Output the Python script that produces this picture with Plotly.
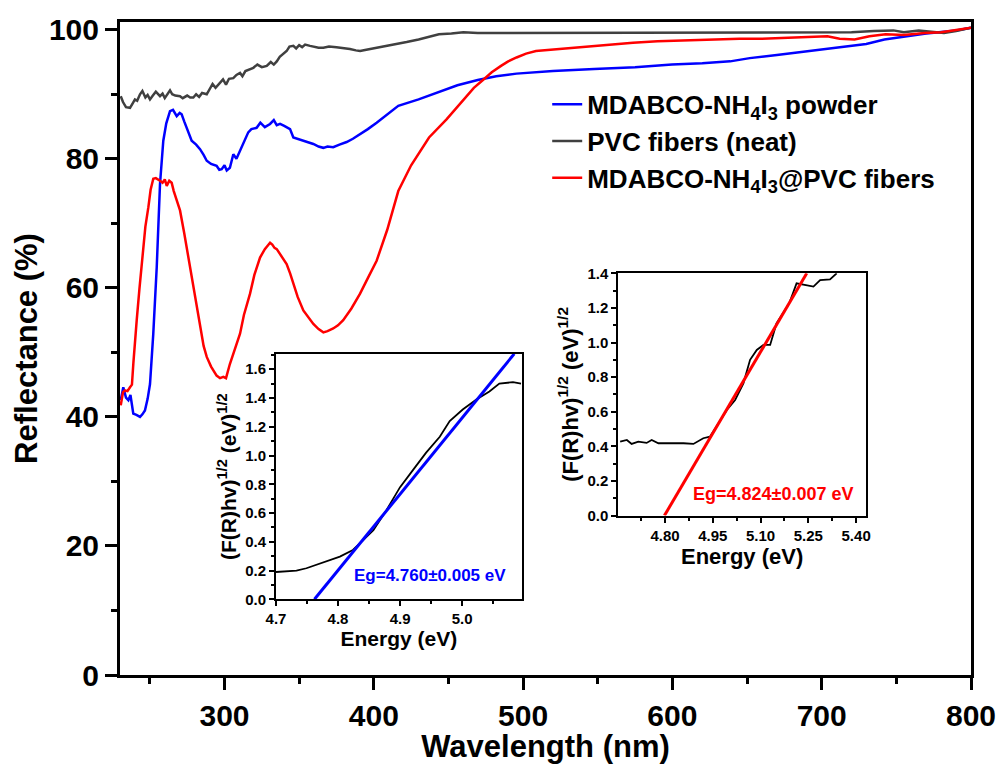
import plotly.graph_objects as go

# ---------------- main chart data ----------------
powder_wl = [230.5, 232.2, 234, 235.6, 237, 238.9, 241, 243.4, 245, 246.7, 248.5, 250.1, 252.3, 254.6,
             256.8, 259, 261, 263.5, 265.5, 268, 270, 271.3, 273, 274.7, 276.5, 278, 281, 283.6, 286,
             288.1, 291, 294.7, 296.5, 298.1, 300, 301.5, 303.6, 305.9, 308, 310.4, 313, 315.9, 318,
             321.5, 324, 327, 330.5, 333, 335, 337.2, 340, 343.9, 346.1, 349, 352.8, 356, 359.5, 363,
             366.2, 369, 372.8, 377, 381.8, 386, 390.8, 396, 401.9, 409, 416.4, 430, 443.6, 456, 469.6,
             482, 495.6, 520, 547.6, 575, 599.7, 620, 638.7, 651.8, 670, 690.8, 710, 729.8, 742, 755.8,
             770, 781.9, 790, 800]
powder_R = [42.6, 44.6, 43.0, 42.6, 43.4, 40.5, 40.3, 40.0, 40.4, 41.0, 42.8, 45.1, 52.9, 63.2,
            76.1, 82.8, 85.5, 87.4, 87.6, 86.6, 87.1, 86.9, 85.8, 84.8, 83.6, 82.8, 82.2, 81.5, 80.6,
            79.7, 79.2, 78.9, 78.3, 78.4, 79.0, 78.2, 78.6, 80.7, 80.0, 81.2, 82.6, 84.1, 84.6,
            84.8, 85.6, 84.9, 85.4, 86.0, 85.2, 85.4, 85.1, 84.6, 83.3, 83.1, 82.8, 82.6, 82.3, 81.9,
            81.7, 81.9, 81.8, 82.2, 82.6, 83.1, 83.8, 84.6, 85.6, 86.9, 88.2, 89.2, 90.3, 91.4, 92.2,
            92.8, 93.2, 93.6, 93.9, 94.2, 94.6, 94.8, 95.1, 95.6, 96.1, 96.7, 97.2, 97.8, 98.5, 99.0,
            99.4, 99.7, 99.9, 100.3]

pvc_wl = [230.5, 232, 234, 236.7, 238.5, 240, 241.5, 243.4, 245, 247, 248.5, 250.1, 252, 254, 256.8,
          258.5, 260, 262, 263.5, 265, 267, 270.2, 272, 275, 277, 279.1, 281, 283, 285, 288.1, 290,
          292, 294, 297, 299, 301, 303, 305.9, 308, 310.4, 312, 314, 317, 319.3, 322, 325, 328.3,
          331, 333, 335, 337, 339, 341.6, 343.5, 346.1, 348, 350, 352, 354, 357.3, 360, 363, 366.2,
          370, 375, 379.5, 384, 388, 390.8, 395, 401.9, 408, 415.3, 422, 430, 437, 443.6, 452, 460,
          469.6, 480, 500, 520, 547.6, 570, 600, 630, 650, 677.8, 700, 720, 735, 748, 755, 765,
          781.9, 790, 800]
pvc_R = [89.7, 88.8, 88.0, 87.9, 88.6, 89.2, 89.0, 90.0, 90.5, 89.5, 89.9, 89.2, 89.8, 90.4, 89.7,
         90.1, 89.4, 90.2, 90.6, 90.0, 89.8, 89.7, 89.4, 89.8, 89.5, 89.5, 90.0, 89.6, 90.2, 90.0, 90.8,
         91.6, 91.0, 91.8, 92.3, 91.5, 92.4, 92.5, 93.0, 93.3, 92.8, 93.6, 93.9, 94.1, 94.6, 94.2, 94.4,
         95.0, 94.6, 95.1, 95.8, 96.2, 96.7, 97.4, 97.5, 97.1, 97.6, 97.3, 97.7, 97.5, 97.4, 97.2, 97.2,
         97.4, 97.3, 97.2, 97.0, 96.8, 96.7, 96.9, 97.2, 97.4, 97.7, 98.1, 98.5, 98.9, 99.3, 99.4, 99.6,
         99.5, 99.5, 99.6, 99.5, 99.5, 99.6, 99.5, 99.6, 99.5, 99.6, 99.5, 99.6, 99.8, 99.9, 99.6, 99.9,
         99.5, 99.8, 100.3]

fiber_wl = [230.5, 232, 233.3, 235, 236.7, 238, 239, 240, 241.2, 243, 245.6, 247, 249, 250.5, 252.3,
            254, 256.8, 258.5, 260, 261.3, 263, 264.6, 266, 268, 270.2, 273, 276.9, 280, 283.6, 286,
            288.1, 291, 294.7, 297, 299.2, 301, 303.6, 306, 308, 310.4, 313, 317.1, 320, 323.8, 327,
            330.5, 332, 333.5, 335, 338, 341.6, 344, 346.1, 349, 352.8, 356, 359.5, 363, 366.2, 369,
            372.8, 376, 379.5, 385, 390.8, 396, 401.9, 409, 416.4, 425, 437, 448.7, 455, 461.7, 467,
            473.5, 479, 485.2, 490, 495.6, 502, 508.6, 521.6, 535, 547.6, 560, 573.6, 590, 605, 625.7,
            645, 660, 677.8, 690, 703.8, 712, 722, 732, 742.8, 755, 768.9, 780, 790, 800]
fiber_R = [41.8, 43.8, 44.1, 44.0, 44.6, 45.0, 48.5, 52.0, 55.0, 59.8, 65.8, 69.5, 72.5, 75.2, 76.9,
           77.0, 76.6, 76.3, 76.8, 75.8, 76.6, 76.3, 75.0, 73.6, 72.0, 68.5, 63.2, 58.5, 53.9, 51.0,
           49.3, 47.8, 46.4, 46.0, 46.2, 46.0, 48.2, 49.8, 51.2, 52.9, 55.8, 59.1, 62.0, 64.7, 66.0,
           67.0, 66.7, 66.2, 66.0, 65.0, 63.7, 62.2, 60.6, 58.6, 56.5, 55.4, 54.4, 53.6, 53.1, 53.3,
           53.7, 54.2, 55.0, 56.8, 59.1, 61.5, 64.2, 69.0, 75.0, 79.0, 83.3, 86.1, 87.8, 89.5, 91.0,
           92.3, 93.4, 94.4, 95.1, 95.7, 96.3, 96.7, 96.95, 97.2, 97.5, 97.7, 98.0, 98.2, 98.3, 98.5,
           98.6, 98.6, 98.8, 98.9, 99.0, 98.6, 98.5, 99.0, 99.3, 99.2, 99.5, 99.6, 99.9, 100.3]

# ---------------- inset 1 (powder) ----------------
in1_E = [4.700, 4.733, 4.749, 4.771, 4.803, 4.824, 4.840, 4.857, 4.878, 4.900, 4.921, 4.942, 4.964,
         4.980, 5.001, 5.023, 5.044, 5.060, 5.082, 5.095]
in1_F = [0.19, 0.20, 0.216, 0.25, 0.297, 0.343, 0.41, 0.48, 0.62, 0.78, 0.90, 1.02, 1.13,
         1.24, 1.32, 1.39, 1.445, 1.50, 1.51, 1.50]
in1_fit_E = [4.762, 5.084]
in1_fit_F = [0.0, 1.707]

# ---------------- inset 2 (fibers) ----------------
in2_E = [4.659, 4.680, 4.695, 4.716, 4.742, 4.758, 4.779, 4.816, 4.858, 4.889, 4.920, 4.941, 4.962,
         4.994, 5.020, 5.046, 5.067, 5.088, 5.109, 5.130, 5.150, 5.190, 5.213, 5.245, 5.266, 5.287,
         5.318, 5.339]
in2_F = [0.427, 0.437, 0.414, 0.427, 0.420, 0.437, 0.418, 0.420, 0.418, 0.414, 0.447, 0.456, 0.514,
         0.61, 0.668, 0.764, 0.90, 0.957, 0.986, 0.986, 1.11, 1.227, 1.342, 1.33, 1.323, 1.361,
         1.365, 1.40]
in2_fit_E = [4.798, 5.245]
in2_fit_F = [0.0, 1.40]

FONT = "Arial, 'Liberation Sans', sans-serif"
BLUE = "#0000FF"
RED = "#FF0000"
GRAY = "#404040"

fig = go.Figure()
fig.add_trace(go.Scatter(x=powder_wl, y=powder_R, mode="lines",
                         name="MDABCO-NH<sub>4</sub>I<sub>3</sub> powder",
                         line=dict(color=BLUE, width=2.5)))
fig.add_trace(go.Scatter(x=pvc_wl, y=pvc_R, mode="lines", name="PVC fibers (neat)",
                         line=dict(color=GRAY, width=2.5)))
fig.add_trace(go.Scatter(x=fiber_wl, y=fiber_R, mode="lines",
                         name="MDABCO-NH<sub>4</sub>I<sub>3</sub>@PVC fibers",
                         line=dict(color=RED, width=2.5)))

fig.add_trace(go.Scatter(x=in1_E, y=in1_F, mode="lines", showlegend=False,
                         line=dict(color="black", width=1.8), xaxis="x3", yaxis="y3"))
fig.add_trace(go.Scatter(x=in1_fit_E, y=in1_fit_F, mode="lines", showlegend=False,
                         line=dict(color=BLUE, width=3), xaxis="x3", yaxis="y3"))
fig.add_trace(go.Scatter(x=in2_E, y=in2_F, mode="lines", showlegend=False,
                         line=dict(color="black", width=1.8), xaxis="x5", yaxis="y5"))
fig.add_trace(go.Scatter(x=in2_fit_E, y=in2_fit_F, mode="lines", showlegend=False,
                         line=dict(color=RED, width=3), xaxis="x5", yaxis="y5"))

tickfont_main = dict(family=FONT, size=30, color="black", weight="bold")
titlefont_main = dict(family=FONT, size=31, color="black", weight="bold")

XR = [230, 800]
YR = [0, 101.2]

main_common = dict(showgrid=False, zeroline=False, linecolor="black", linewidth=3,
                   tickcolor="black", tickwidth=3, ticklen=12, automargin=False)

fig.update_layout(
    width=1007, height=764,
    margin=dict(l=120, r=36, t=22, b=89),
    paper_bgcolor="white", plot_bgcolor="white",
    hovermode=False,
    xaxis=dict(domain=[0, 1], range=XR, showline=True, mirror=True, ticks="outside",
               tick0=0, dtick=100, tickfont=tickfont_main,
               title=dict(text="Wavelength (nm)", font=titlefont_main, standoff=14),
               minor=dict(ticks="outside", ticklen=6, tickwidth=3, tickcolor="black", tick0=0, dtick=50),
               **main_common),
    yaxis=dict(domain=[0, 1], range=YR, showline=True, mirror=True, ticks="outside",
               tick0=0, dtick=20, tickfont=tickfont_main,
               title=dict(text="Reflectance (%)", font=titlefont_main, standoff=3),
               minor=dict(ticks="outside", ticklen=6, tickwidth=3, tickcolor="black", tick0=0, dtick=10),
               **main_common),
    xaxis2=dict(overlaying="x", anchor="y", side="top", range=XR, showline=False, ticks="inside",
                tick0=0, dtick=100, showticklabels=False,
                minor=dict(ticks="inside", ticklen=6, tickwidth=3, tickcolor="black", tick0=0, dtick=50),
                **main_common),
    yaxis2=dict(overlaying="y", anchor="x", side="right", range=YR, showline=False, ticks="inside",
                tick0=0, dtick=20, showticklabels=False,
                minor=dict(ticks="inside", ticklen=6, tickwidth=3, tickcolor="black", tick0=0, dtick=10),
                **main_common),
    legend=dict(x=0.502, y=0.91, xanchor="left", yanchor="top", bgcolor="rgba(0,0,0,0)",
                font=dict(family=FONT, size=26, color="black", weight="bold"),
                itemwidth=30, tracegroupgap=0),
)


def inset_axes(xname, yname, xdom, ydom, xr, yr, xdt, xmin, ydt, ymin, xfmt, tfs, ttl_fs, ystand):
    common = dict(showgrid=False, zeroline=False, linecolor="black", linewidth=2,
                  tickcolor="black", tickwidth=1.5, ticklen=5)
    tf = dict(family=FONT, size=tfs, color="black", weight="bold")
    ttf = dict(family=FONT, size=ttl_fs, color="black", weight="bold")
    xn, yn = xname.replace("axis", ""), yname.replace("axis", "")
    xn2 = "x" + str(int(xn[1:]) + 1)
    yn2 = "y" + str(int(yn[1:]) + 1)
    lay = {
        xname: dict(domain=xdom, anchor=yn, range=xr, showline=True, mirror=True, ticks="outside",
                    tick0=0, dtick=xdt, tickformat=xfmt, tickfont=tf,
                    title=dict(text="Energy (eV)", font=ttf, standoff=2),
                    minor=dict(ticks="outside", ticklen=3, tickwidth=1.5, tickcolor="black", tick0=0, dtick=xmin),
                    **common),
        yname: dict(domain=ydom, anchor=xn, range=yr, showline=True, mirror=True, ticks="outside",
                    tick0=0, dtick=ydt, tickformat=".1f", tickfont=tf,
                    title=dict(text="(F(R)hv)<sup>1/2</sup> (eV)<sup>1/2</sup>", font=ttf, standoff=ystand),
                    minor=dict(ticks="outside", ticklen=3, tickwidth=1.5, tickcolor="black", tick0=0, dtick=ymin),
                    **common),
        "xaxis" + xn2[1:]: dict(overlaying=xn, anchor=yn, side="top", range=xr, showline=False,
                                ticks="inside", tick0=0, dtick=xdt, showticklabels=False,
                                minor=dict(ticks="inside", ticklen=3, tickwidth=1.5, tickcolor="black", tick0=0, dtick=xmin),
                                **common),
        "yaxis" + yn2[1:]: dict(overlaying=yn, anchor=xn, side="right", range=yr, showline=False,
                                ticks="inside", tick0=0, dtick=ydt, showticklabels=False,
                                minor=dict(ticks="inside", ticklen=3, tickwidth=1.5, tickcolor="black", tick0=0, dtick=ymin),
                                **common),
    }
    return lay


fig.update_layout(**inset_axes("xaxis3", "yaxis3", [0.1833, 0.4720], [0.1159, 0.4916],
                               [4.7, 5.096], [0, 1.706], 0.1, 0.05, 0.2, 0.1, ".1f", 15, 21, 3))
fig.update_layout(**inset_axes("xaxis5", "yaxis5", [0.5855, 0.8766], [0.2441, 0.6152],
                               [4.653, 5.431], [0, 1.4], 0.15, 0.075, 0.2, 0.1, ".2f", 15, 22, 3))

fig.add_annotation(x=4.948, y=0.169, xref="x3", yref="y3", showarrow=False,
                   text="Eg=4.760±0.005 eV",
                   font=dict(family=FONT, size=17, color=BLUE, weight="bold"))
fig.add_annotation(x=5.142, y=0.125, xref="x5", yref="y5", showarrow=False,
                   text="Eg=4.824±0.007 eV",
                   font=dict(family=FONT, size=18, color=RED, weight="bold"))

fig.write_html("out.html")
